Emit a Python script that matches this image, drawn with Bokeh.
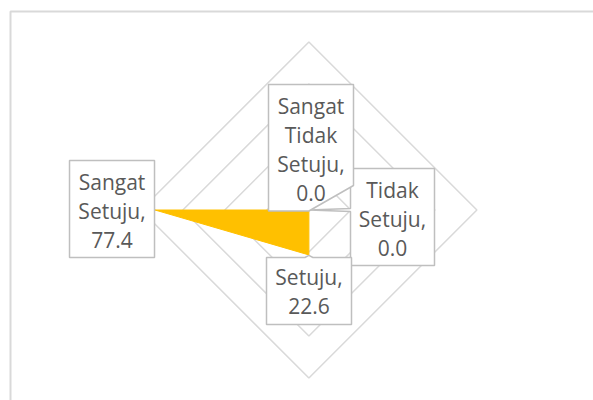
import math
from bokeh.plotting import figure
from bokeh.models import Range1d
from bokeh.core.properties import value
from bokeh.embed import file_html
from bokeh.resources import INLINE

# ---- data ----
categories = ["Sangat Tidak Setuju", "Tidak Setuju", "Setuju", "Sangat Setuju"]
values = [0.0, 0.0, 22.6, 77.4]
value_labels = ["0.0", "0.0", "22.6", "77.4"]
ring_levels = [21.1, 42.3, 63.4, 84.5]
angles_deg = [90, 0, 270, 180]   # clockwise from top

# ---- layout (pixels) ----
W, H = 593, 400
PX_PER_UNIT = 168 / 84.5
CX, CY = 308.4, 209.5          # radar centre inside the figure (px)
U = 1.0 / PX_PER_UNIT           # data units per pixel
LINE_PX = 29                    # spacing between label lines

p = figure(width=W, height=H,
           x_range=Range1d(-CX * U, (W - CX) * U),
           y_range=Range1d(-(H - CY) * U, CY * U),
           output_backend="svg", toolbar_location=None,
           x_axis_type=None, y_axis_type=None, min_border=0)
p.grid.visible = False
p.outline_line_color = None
p.background_fill_color = "white"
p.border_fill_color = "white"

# chart-area frame (extends past the picture on right / bottom)
p.quad(left=(10 - CX) * U, right=(W + 30 - CX) * U,
       top=(CY - 11) * U, bottom=(CY - (H + 30)) * U,
       fill_color=None, line_color="#D9D9D9", line_width=2)

# grid rings
rad = [math.radians(a) for a in angles_deg]
ring_xs, ring_ys = [], []
for r in ring_levels:
    ring_xs.append([r * math.cos(a) for a in rad] + [r * math.cos(rad[0])])
    ring_ys.append([r * math.sin(a) for a in rad] + [r * math.sin(rad[0])])
p.patches(ring_xs, ring_ys, fill_color=None, line_color="#D9D9D9", line_width=1.5)

# data area
px_ = [v * math.cos(a) for v, a in zip(values, rad)]
py_ = [v * math.sin(a) for v, a in zip(values, rad)]
p.patch(px_, py_, fill_color="#FFC000", line_color="#FFC000", line_width=1)

# label callouts: polygon offsets (px, y down) relative to data point
callout_shapes = {
    "Sangat Tidak Setuju": [(-40.4, -125.5), (44.6, -125.5), (44.6, -24.5), (0, 1.0), (-40.4, 1.0)],
    "Tidak Setuju": [(41.6, -41.5), (125.6, -41.5), (125.6, 55.5), (41.6, 55.5), (41.6, 1.5), (0, 0), (41.6, -1.5)],
    "Setuju": [(-42.4, 2.6), (-4, 2.6), (0, 0.5), (4, 2.6), (42.6, 2.6), (42.6, 69.6), (-42.4, 69.6)],
    "Sangat Setuju": [(-85.5, -49.5), (-0.5, -49.5), (-0.5, 47.5), (-85.5, 47.5)],
}
text_offsets = {
    "Sangat Tidak Setuju": (2.1, -60.5),
    "Tidak Setuju": (83.6, 8.5),
    "Setuju": (0.1, 36.6),
    "Sangat Setuju": (-43.0, 0.5),
}
draw_order = ["Tidak Setuju", "Sangat Tidak Setuju", "Setuju", "Sangat Setuju"]

for cat in draw_order:
    i = categories.index(cat)
    bx, by = px_[i], py_[i]
    shape = callout_shapes[cat]
    xs = [bx + dx * U for dx, dy in shape]
    ys = [by - dy * U for dx, dy in shape]
    p.patch(xs, ys, fill_color="white", line_color="#BFBFBF", line_width=1.5)
    tx, ty = text_offsets[cat]
    lines = cat.split()
    lines[-1] = lines[-1] + ","
    lines.append(value_labels[i])
    n = len(lines)
    lx = [bx + tx * U] * n
    ly = [by - (ty + (k - (n - 1) / 2) * LINE_PX) * U for k in range(n)]
    p.text(x=lx, y=ly, text=lines,
           text_font=value("Open Sans"), text_font_size="21px",
           text_color="#595959", text_align="center", text_baseline="middle")

open("out.html", "w").write(file_html(p, INLINE))
